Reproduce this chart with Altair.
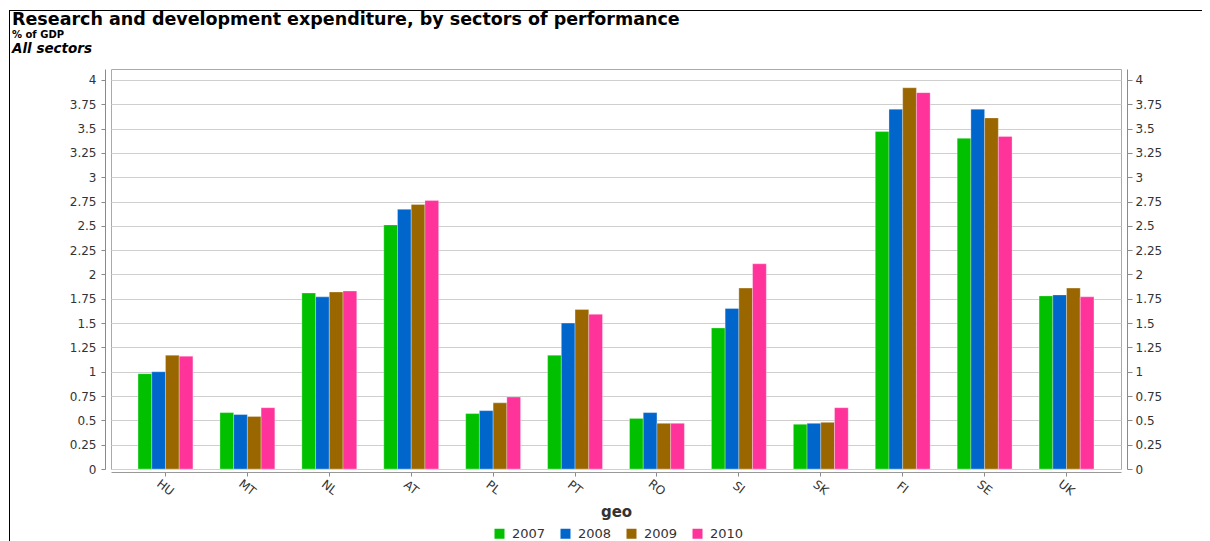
import altair as alt
import pandas as pd

GEO = ["HU", "MT", "NL", "AT", "PL", "PT", "RO", "SI", "SK", "FI", "SE", "UK"]
YEARS = ["2007", "2008", "2009", "2010"]
V2007 = [0.98, 0.58, 1.81, 2.51, 0.57, 1.17, 0.52, 1.45, 0.46, 3.47, 3.40, 1.78]
V2008 = [1.00, 0.56, 1.77, 2.67, 0.60, 1.50, 0.58, 1.65, 0.47, 3.70, 3.70, 1.79]
V2009 = [1.17, 0.54, 1.82, 2.72, 0.68, 1.64, 0.47, 1.86, 0.48, 3.92, 3.61, 1.86]
V2010 = [1.16, 0.63, 1.83, 2.76, 0.74, 1.59, 0.47, 2.11, 0.63, 3.87, 3.42, 1.77]
COLORS = ["#00C000", "#0066CC", "#996600", "#FF3399"]
Y_TICKS = [0, 0.25, 0.5, 0.75, 1, 1.25, 1.5, 1.75, 2, 2.25, 2.5, 2.75,
           3, 3.25, 3.5, 3.75, 4]
TITLE = "Research and development expenditure, by sectors of performance"
UNIT = "% of GDP"
SECTOR = "All sectors"

rows = [{"geo": g, "year": yr, "value": v}
        for yr, vals in zip(YEARS, [V2007, V2008, V2009, V2010])
        for g, v in zip(GEO, vals)]
df = pd.DataFrame(rows)

W, H = 1010, 400
FONT = "DejaVu Sans"
LBL = "#333333"
AXC = "#8a8a8a"

yscale = alt.Scale(domain=[0, 4.113], nice=False, zero=True)
xscale = alt.Scale(domain=GEO, paddingInner=0.33, paddingOuter=0.33)

x_enc = alt.X(
    "geo:N", sort=GEO, scale=xscale, title="geo",
    axis=alt.Axis(labelAngle=38, labelAlign="center", labelBaseline="middle",
                  labelPadding=11, offset=3, tickSize=4, tickColor=AXC,
                  domainColor="#999999", labelColor=LBL, labelFont=FONT,
                  labelFontSize=12, titleFont=FONT, titleFontSize=15,
                  titleFontWeight="bold", titleColor=LBL, titlePadding=7,
                  grid=False))
xo_enc = alt.XOffset("year:N", sort=YEARS,
                     scale=alt.Scale(domain=YEARS, paddingInner=0, paddingOuter=0))

bars = alt.Chart(df).mark_bar(stroke="white", strokeWidth=0.6, strokeOpacity=0.5).encode(
    x=x_enc,
    xOffset=xo_enc,
    y=alt.Y("value:Q", scale=yscale,
            axis=alt.Axis(orient="left", values=Y_TICKS, format=".2~f", offset=6,
                          tickSize=4, tickColor=AXC, domainColor=AXC,
                          labelColor=LBL, labelFont=FONT, labelFontSize=12,
                          labelPadding=5, grid=True, gridColor="#cfcfcf",
                          title=None)),
    color=alt.Color("year:N", sort=YEARS,
                    scale=alt.Scale(domain=YEARS, range=COLORS),
                    legend=alt.Legend(orient="none", legendX=382, legendY=458,
                                      direction="horizontal", title=None,
                                      symbolType="square", symbolSize=100,
                                      symbolStrokeWidth=0, labelFont=FONT,
                                      labelFontSize=13, labelColor=LBL,
                                      labelOffset=6, columnPadding=13)),
)

right = alt.Chart(df).mark_bar(opacity=0).encode(
    x=x_enc,
    xOffset=xo_enc,
    y=alt.Y("value:Q", scale=yscale,
            axis=alt.Axis(orient="right", values=Y_TICKS, format=".2~f", offset=6,
                          tickSize=5, tickColor=AXC, domainColor=AXC,
                          labelColor=LBL, labelFont=FONT, labelFontSize=12,
                          labelPadding=3, grid=False, title=None)),
)

one = pd.DataFrame({"t": [TITLE], "u": [UNIT], "s": [SECTOR]})
t1 = alt.Chart(one).mark_text(font=FONT, fontSize=17.5, fontWeight="bold", align="left",
                              baseline="alphabetic", color="black").encode(
    text="t:N", x=alt.value(-99), y=alt.value(-44))
t2 = alt.Chart(one).mark_text(font=FONT, fontSize=10, fontWeight="bold", align="left",
                              baseline="alphabetic", color="black").encode(
    text="u:N", x=alt.value(-99), y=alt.value(-31))
t3 = alt.Chart(one).mark_text(font=FONT, fontSize=13.5, fontWeight="bold", fontStyle="italic",
                              align="left", baseline="alphabetic", color="black").encode(
    text="s:N", x=alt.value(-99), y=alt.value(-16))

border_top = alt.Chart(one).mark_rule(color="black", strokeWidth=1).encode(
    x=alt.value(-101), x2=alt.value(W + 120), y=alt.value(-58.5))
border_left = alt.Chart(one).mark_rule(color="black", strokeWidth=1).encode(
    x=alt.value(-101.5), y=alt.value(-59), y2=alt.value(H + 120))

chart = alt.layer(border_top, border_left, t1, t2, t3, bars, right).resolve_scale(
    y="independent"
).properties(
    width=W, height=H,
    padding={"left": 103, "top": 61, "right": 81, "bottom": 72},
    autosize=alt.AutoSizeParams(type="none"),
    background="white",
).configure_view(stroke="#aaaaaa", strokeWidth=1)

chart.save("out.html", embed_options={"renderer": "svg", "actions": False})
